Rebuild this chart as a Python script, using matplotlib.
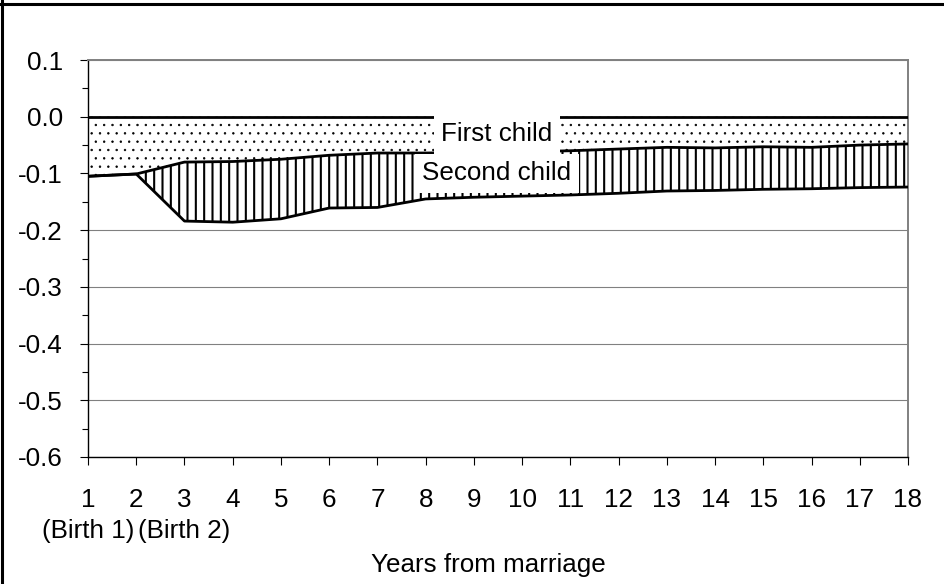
import numpy as np
import matplotlib
matplotlib.use('Agg')
import matplotlib.pyplot as plt
from matplotlib.lines import Line2D
from matplotlib.ticker import MultipleLocator

plt.rcParams['font.family'] = ['Liberation Sans', 'DejaVu Sans']
plt.rcParams['axes.unicode_minus'] = False
plt.rcParams['hatch.linewidth'] = 1.5

# data
years = np.arange(1, 19)
first_child = [-0.105, -0.101, -0.080, -0.079, -0.075, -0.068, -0.064, -0.064, -0.063,
               -0.062, -0.060, -0.057, -0.054, -0.055, -0.053, -0.054, -0.050, -0.048]
second_child = [0.0, 0.0, -0.104, -0.107, -0.105, -0.093, -0.096, -0.081, -0.079,
                -0.078, -0.078, -0.078, -0.077, -0.075, -0.075, -0.073, -0.075, -0.076]
birth_years = [1, 3]
birth_labels = ['(Birth 1)', '(Birth 2)']
yticks = [0.1, 0.0, -0.1, -0.2, -0.3, -0.4, -0.5, -0.6]

fs = 18.7
first = np.array(first_child)
total = first + np.array(second_child)

fig = plt.figure(figsize=(9.45, 5.84), dpi=100)
ax = fig.add_axes([88 / 945, 127 / 584, 820 / 945, 397 / 584])

f1 = ax.fill_between(years, 0, first, facecolor='white', edgecolor='black',
                     hatch='..', linewidth=0, zorder=2)
f2 = ax.fill_between(years, first, total, facecolor='white', edgecolor='black',
                     hatch='||', linewidth=0, zorder=2)
if hasattr(f1, 'set_hatch_linewidth'):
    f1.set_hatch_linewidth(0.5)
    f2.set_hatch_linewidth(1.5)

ax.plot(years, np.zeros(len(years)), color='black', lw=2.0, zorder=3)
ax.plot(years, first, color='black', lw=2.0, zorder=3)
ax.plot(years, total, color='black', lw=2.0, zorder=3)

ax.text(9.48, -0.030, 'First child', fontsize=fs, ha='center', va='center', zorder=5,
        bbox=dict(boxstyle='square,pad=0.3', facecolor='white', edgecolor='none'))
ax.text(9.48, -0.100, 'Second child', fontsize=fs, ha='center', va='center', zorder=5,
        bbox=dict(boxstyle='square,pad=0.3', facecolor='white', edgecolor='none'))

ax.set_xlim(1, 18)
ax.set_ylim(-0.6, 0.1)
ax.set_xticks(years)
ax.set_xticklabels([str(v) for v in years])
for bx, bl in zip(birth_years, birth_labels):
    ax.text(bx, -0.204, bl, fontsize=fs, ha='center', va='baseline',
            transform=ax.get_xaxis_transform(), clip_on=False)
ax.set_yticks(yticks)
ax.set_yticklabels(['%.1f' % v for v in yticks])
ax.yaxis.set_minor_locator(MultipleLocator(0.05))
ax.tick_params(axis='both', labelsize=fs, direction='out', length=6, width=0.8, color='black')
ax.tick_params(axis='x', pad=16)
ax.tick_params(axis='y', pad=12)
ax.tick_params(axis='y', which='minor', length=4.5, width=0.8)

ax.yaxis.grid(True, color='#808080', lw=0.8)
ax.set_axisbelow(True)
for side in ['top', 'right']:
    ax.spines[side].set_color('#808080')
    ax.spines[side].set_linewidth(1.4)
for side in ['left', 'bottom']:
    ax.spines[side].set_color('black')
    ax.spines[side].set_linewidth(1.0)

fig.text(488 / 945, 12 / 584, 'Years from marriage', fontsize=fs, ha='center', va='baseline')

# chart frame
fig.add_artist(Line2D([2.5 / 945, 2.5 / 945], [0, 1], color='black', lw=2.2))
fig.add_artist(Line2D([0, 1], [1 - 4 / 584, 1 - 4 / 584], color='black', lw=2.2))

fig.savefig('out.png', dpi=100)
